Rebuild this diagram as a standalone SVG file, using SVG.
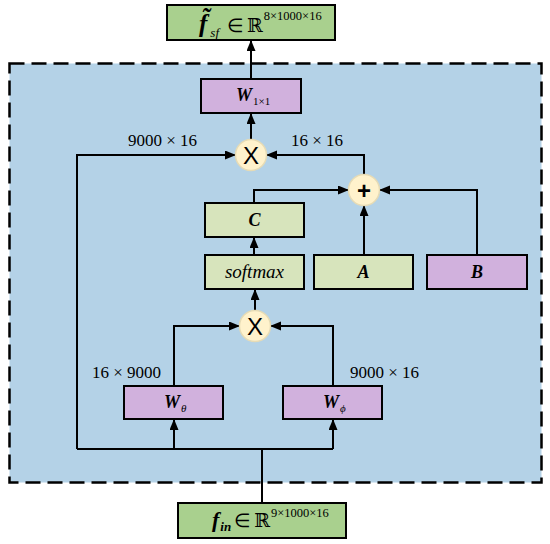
<svg xmlns="http://www.w3.org/2000/svg" width="550" height="544" viewBox="0 0 550 544">
<defs>
<marker id="arr" markerUnits="userSpaceOnUse" markerWidth="11" markerHeight="10" refX="10" refY="4.5" orient="auto">
<path d="M0,0 L11,4.5 L0,9 z" fill="#000"/>
</marker>
<style>
.box{stroke:#000;stroke-width:2}
.g1{fill:#a9d08e}
.g2{fill:#d7e4bc}
.pu{fill:#d1b1dd}
.op{fill:#fff2cc;stroke:#e6dbb5;stroke-width:1.5}
.ln{fill:none;stroke:#000;stroke-width:2}
.t{font-family:"Liberation Serif","Times New Roman",serif;fill:#000}
.bi{font-weight:bold;font-style:italic}
.dim{font-size:17px}
.sym{font-family:"Liberation Sans",Arial,sans-serif;font-size:24px;text-anchor:middle}
</style>
</defs>
<rect x="0" y="0" width="550" height="544" fill="#fff"/>
<rect id="container" x="9.5" y="63.5" width="532" height="419" fill="#b4d2e7" stroke="#000" stroke-width="2.5" stroke-dasharray="15,7"/>

<g id="connectors">
<path class="ln" d="M251,79 V41" marker-end="url(#arr)"/>
<path class="ln" d="M251,139 V114" marker-end="url(#arr)"/>
<path class="ln" d="M77,449 V155 H235" marker-end="url(#arr)"/>
<path class="ln" d="M364,175 V155 H267" marker-end="url(#arr)"/>
<path class="ln" d="M254,203 V190 H348" marker-end="url(#arr)"/>
<path class="ln" d="M477,255 V190 H380" marker-end="url(#arr)"/>
<path class="ln" d="M364,255 V206" marker-end="url(#arr)"/>
<path class="ln" d="M254,255 V238" marker-end="url(#arr)"/>
<path class="ln" d="M255,310 V290" marker-end="url(#arr)"/>
<path class="ln" d="M174,386 V326 H239" marker-end="url(#arr)"/>
<path class="ln" d="M333,386 V326 H271" marker-end="url(#arr)"/>
<path class="ln" d="M77,449 H333"/>
<path class="ln" d="M174,449 V420" marker-end="url(#arr)"/>
<path class="ln" d="M333,449 V420" marker-end="url(#arr)"/>
<path class="ln" d="M262,503 V449"/>
</g>

<g id="labels">
<text class="t dim" x="128" y="146">9000 × 16</text>
<text class="t dim" x="291" y="146">16 × 16</text>
<text class="t dim" x="92" y="378">16 × 9000</text>
<text class="t dim" x="350" y="378">9000 × 16</text>
</g>

<g id="out">
<rect class="box g1" x="167" y="5" width="168" height="35"/>
<text class="t" x="199" y="32"><tspan class="bi" font-size="25">f̃</tspan><tspan font-size="13" font-style="italic" dx="3" dy="5">sf</tspan><tspan font-size="19" dx="8" dy="-5">∈</tspan><tspan font-size="19" font-family="DejaVu Serif" dx="3">ℝ</tspan><tspan font-size="12.5" dx="1" dy="-12">8×1000×16</tspan></text>
</g>

<g id="w1x1">
<rect class="box pu" x="201" y="79" width="100" height="34"/>
<text class="t" x="236" y="101"><tspan class="bi" font-size="18">W</tspan><tspan font-size="11" dx="1" dy="4">1×1</tspan></text>
</g>

<g id="mul1">
<circle class="op" cx="251" cy="155" r="15.5"/>
<text class="sym" x="251" y="164">X</text>
</g>

<g id="add">
<circle class="op" cx="364" cy="190" r="15.5"/>
<text class="sym" x="364" y="199" font-size="28" font-weight="bold">+</text>
</g>

<g id="C">
<rect class="box g2" x="205" y="203" width="99" height="34"/>
<text class="t bi" x="254.5" y="226" font-size="18" text-anchor="middle">C</text>
</g>

<g id="softmax">
<rect class="box g2" x="205" y="255" width="99" height="34"/>
<text class="t" x="254.5" y="278" font-size="19" font-style="italic" text-anchor="middle">softmax</text>
</g>

<g id="A">
<rect class="box g2" x="314" y="255" width="99" height="34"/>
<text class="t bi" x="363.5" y="278" font-size="18" text-anchor="middle">A</text>
</g>

<g id="B">
<rect class="box pu" x="427" y="255" width="100" height="34"/>
<text class="t bi" x="477" y="278" font-size="18" text-anchor="middle">B</text>
</g>

<g id="mul2">
<circle class="op" cx="255" cy="326" r="15.5"/>
<text class="sym" x="255" y="335">X</text>
</g>

<g id="wtheta">
<rect class="box pu" x="124" y="386" width="99" height="33"/>
<text class="t" x="164" y="408"><tspan class="bi" font-size="18">W</tspan><tspan font-size="11" font-style="italic" dx="1" dy="4">θ</tspan></text>
</g>

<g id="wphi">
<rect class="box pu" x="283" y="386" width="99" height="33"/>
<text class="t" x="323" y="408"><tspan class="bi" font-size="18">W</tspan><tspan font-size="11" font-style="italic" dx="1" dy="4">ϕ</tspan></text>
</g>

<g id="in">
<rect class="box g1" x="178" y="503" width="168" height="35"/>
<text class="t" x="212" y="527"><tspan class="bi" font-size="22">f</tspan><tspan class="bi" font-size="13" dx="1" dy="4">in</tspan><tspan font-size="19" dx="3" dy="-4">∈</tspan><tspan font-size="19" font-family="DejaVu Serif" dx="3">ℝ</tspan><tspan font-size="12.5" dx="1" dy="-10">9×1000×16</tspan></text>
</g>
</svg>
